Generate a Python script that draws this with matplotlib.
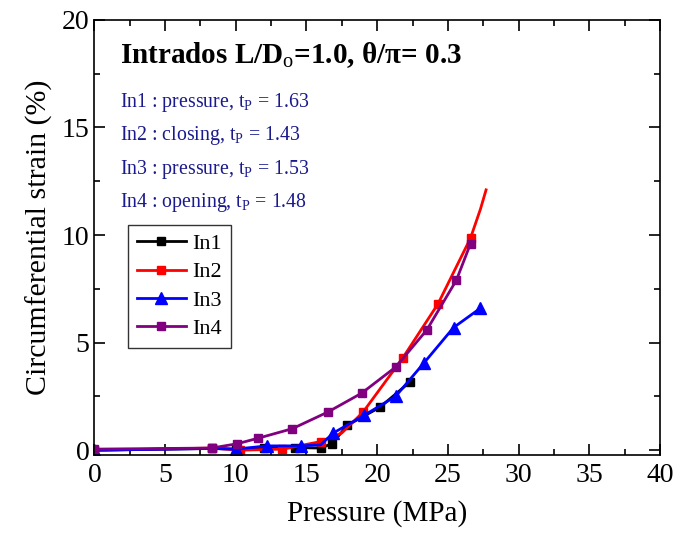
import matplotlib
matplotlib.use("Agg")
import matplotlib.pyplot as plt
from matplotlib.ticker import MultipleLocator

plt.rcParams["font.family"] = ["Liberation Serif", "DejaVu Serif"]
plt.rcParams["mathtext.fontset"] = "custom"
plt.rcParams["mathtext.rm"] = "Liberation Serif"
plt.rcParams["mathtext.it"] = "Liberation Serif"
plt.rcParams["mathtext.bf"] = "Liberation Serif:bold"

# In1 : pressure
p1 = [0, 8.3, 10.0, 12.0, 14.2, 16.0, 16.8, 17.9, 20.2, 22.3]
s1 = [0.0, 0.08, 0.05, 0.08, 0.12, 0.1, 0.3, 1.16, 2.0, 3.16]

# In2 : closing
p2 = [0, 8.3, 10.3, 13.3, 16.0, 17.5, 19.0, 21.8, 24.3, 26.6, 27.3, 27.7]
s2 = [0.0, 0.1, 0.0, 0.05, 0.4, 0.8, 1.77, 4.28, 6.8, 9.86, 11.2, 12.1]

# In3 : pressure
p3 = [0, 8.3, 10.0, 12.2, 14.6, 16.0, 16.9, 19.1, 21.3, 23.3, 25.4, 27.3]
s3 = [0.0, 0.08, 0.05, 0.2, 0.2, 0.25, 0.8, 1.63, 2.5, 4.05, 5.7, 6.6]

# In4 : opening
p4 = [0, 8.3, 10.1, 11.6, 14.0, 16.5, 18.9, 21.3, 23.5, 25.6, 26.6]
s4 = [0.05, 0.1, 0.3, 0.56, 1.0, 1.77, 2.65, 3.86, 5.58, 7.9, 9.6]

notes = ["In1 : pressure, t$_{\\rm P}$ = 1.63",
         "In2 : closing, t$_{\\rm P}$ = 1.43",
         "In3 : pressure, t$_{\\rm P}$ = 1.53",
         "In4 : opening, t$_{\\rm P}$ = 1.48"]

fig = plt.figure(figsize=(6.79, 5.38), dpi=100)
ax = fig.add_axes([0.139, 0.154, 0.833, 0.809])

ax.plot(p1, s1, color="black", lw=2, marker="s", ms=6, label="In1")
ax.plot(p2, s2, color="red", lw=2, marker="s", ms=6,
        markevery=[1, 2, 3, 4, 6, 7, 8, 9], label="In2")
ax.plot(p3, s3, color="blue", lw=2, marker="^", ms=8,
        markevery=[0, 2, 3, 4, 6, 7, 8, 9, 10, 11], label="In3")
ax.plot(p4, s4, color="purple", lw=2, marker="s", ms=6, label="In4")

ax.set_xlim(0, 40)
ax.set_ylim(-0.23, 20)
ax.xaxis.set_major_locator(MultipleLocator(5))
ax.xaxis.set_minor_locator(MultipleLocator(2.5))
ax.yaxis.set_major_locator(MultipleLocator(5))
ax.yaxis.set_minor_locator(MultipleLocator(2.5))
ax.tick_params(which="both", direction="in", top=True, right=True,
               labelsize=20, width=1.2)
ax.tick_params(which="major", length=8)
ax.tick_params(which="minor", length=4)
ax.tick_params(axis="x", pad=6)
for sp in ax.spines.values():
    sp.set_linewidth(1.2)

ax.set_xlabel("Pressure (MPa)", fontsize=21, labelpad=8)
ax.set_ylabel("Circumferential strain (%)", fontsize=21.5, labelpad=6)

ax.text(0.045, 0.9, "Intrados L/D$_{\\rm o}$=1.0, \u03b8/\u03c0= 0.3",
        transform=ax.transAxes, fontsize=21, fontweight="bold")
for i, t in enumerate(notes):
    ax.text(0.045, 0.8 - i * 0.077, t, transform=ax.transAxes,
            fontsize=14.3, color="#1a1a8c")

ax.legend(loc="upper left", bbox_to_anchor=(0.04, 0.555), fontsize=16,
          frameon=True, fancybox=False, edgecolor="black",
          handlelength=2.2, borderpad=0.4, labelspacing=0.35,
          handletextpad=0.3)

plt.savefig("out.png", dpi=100)
